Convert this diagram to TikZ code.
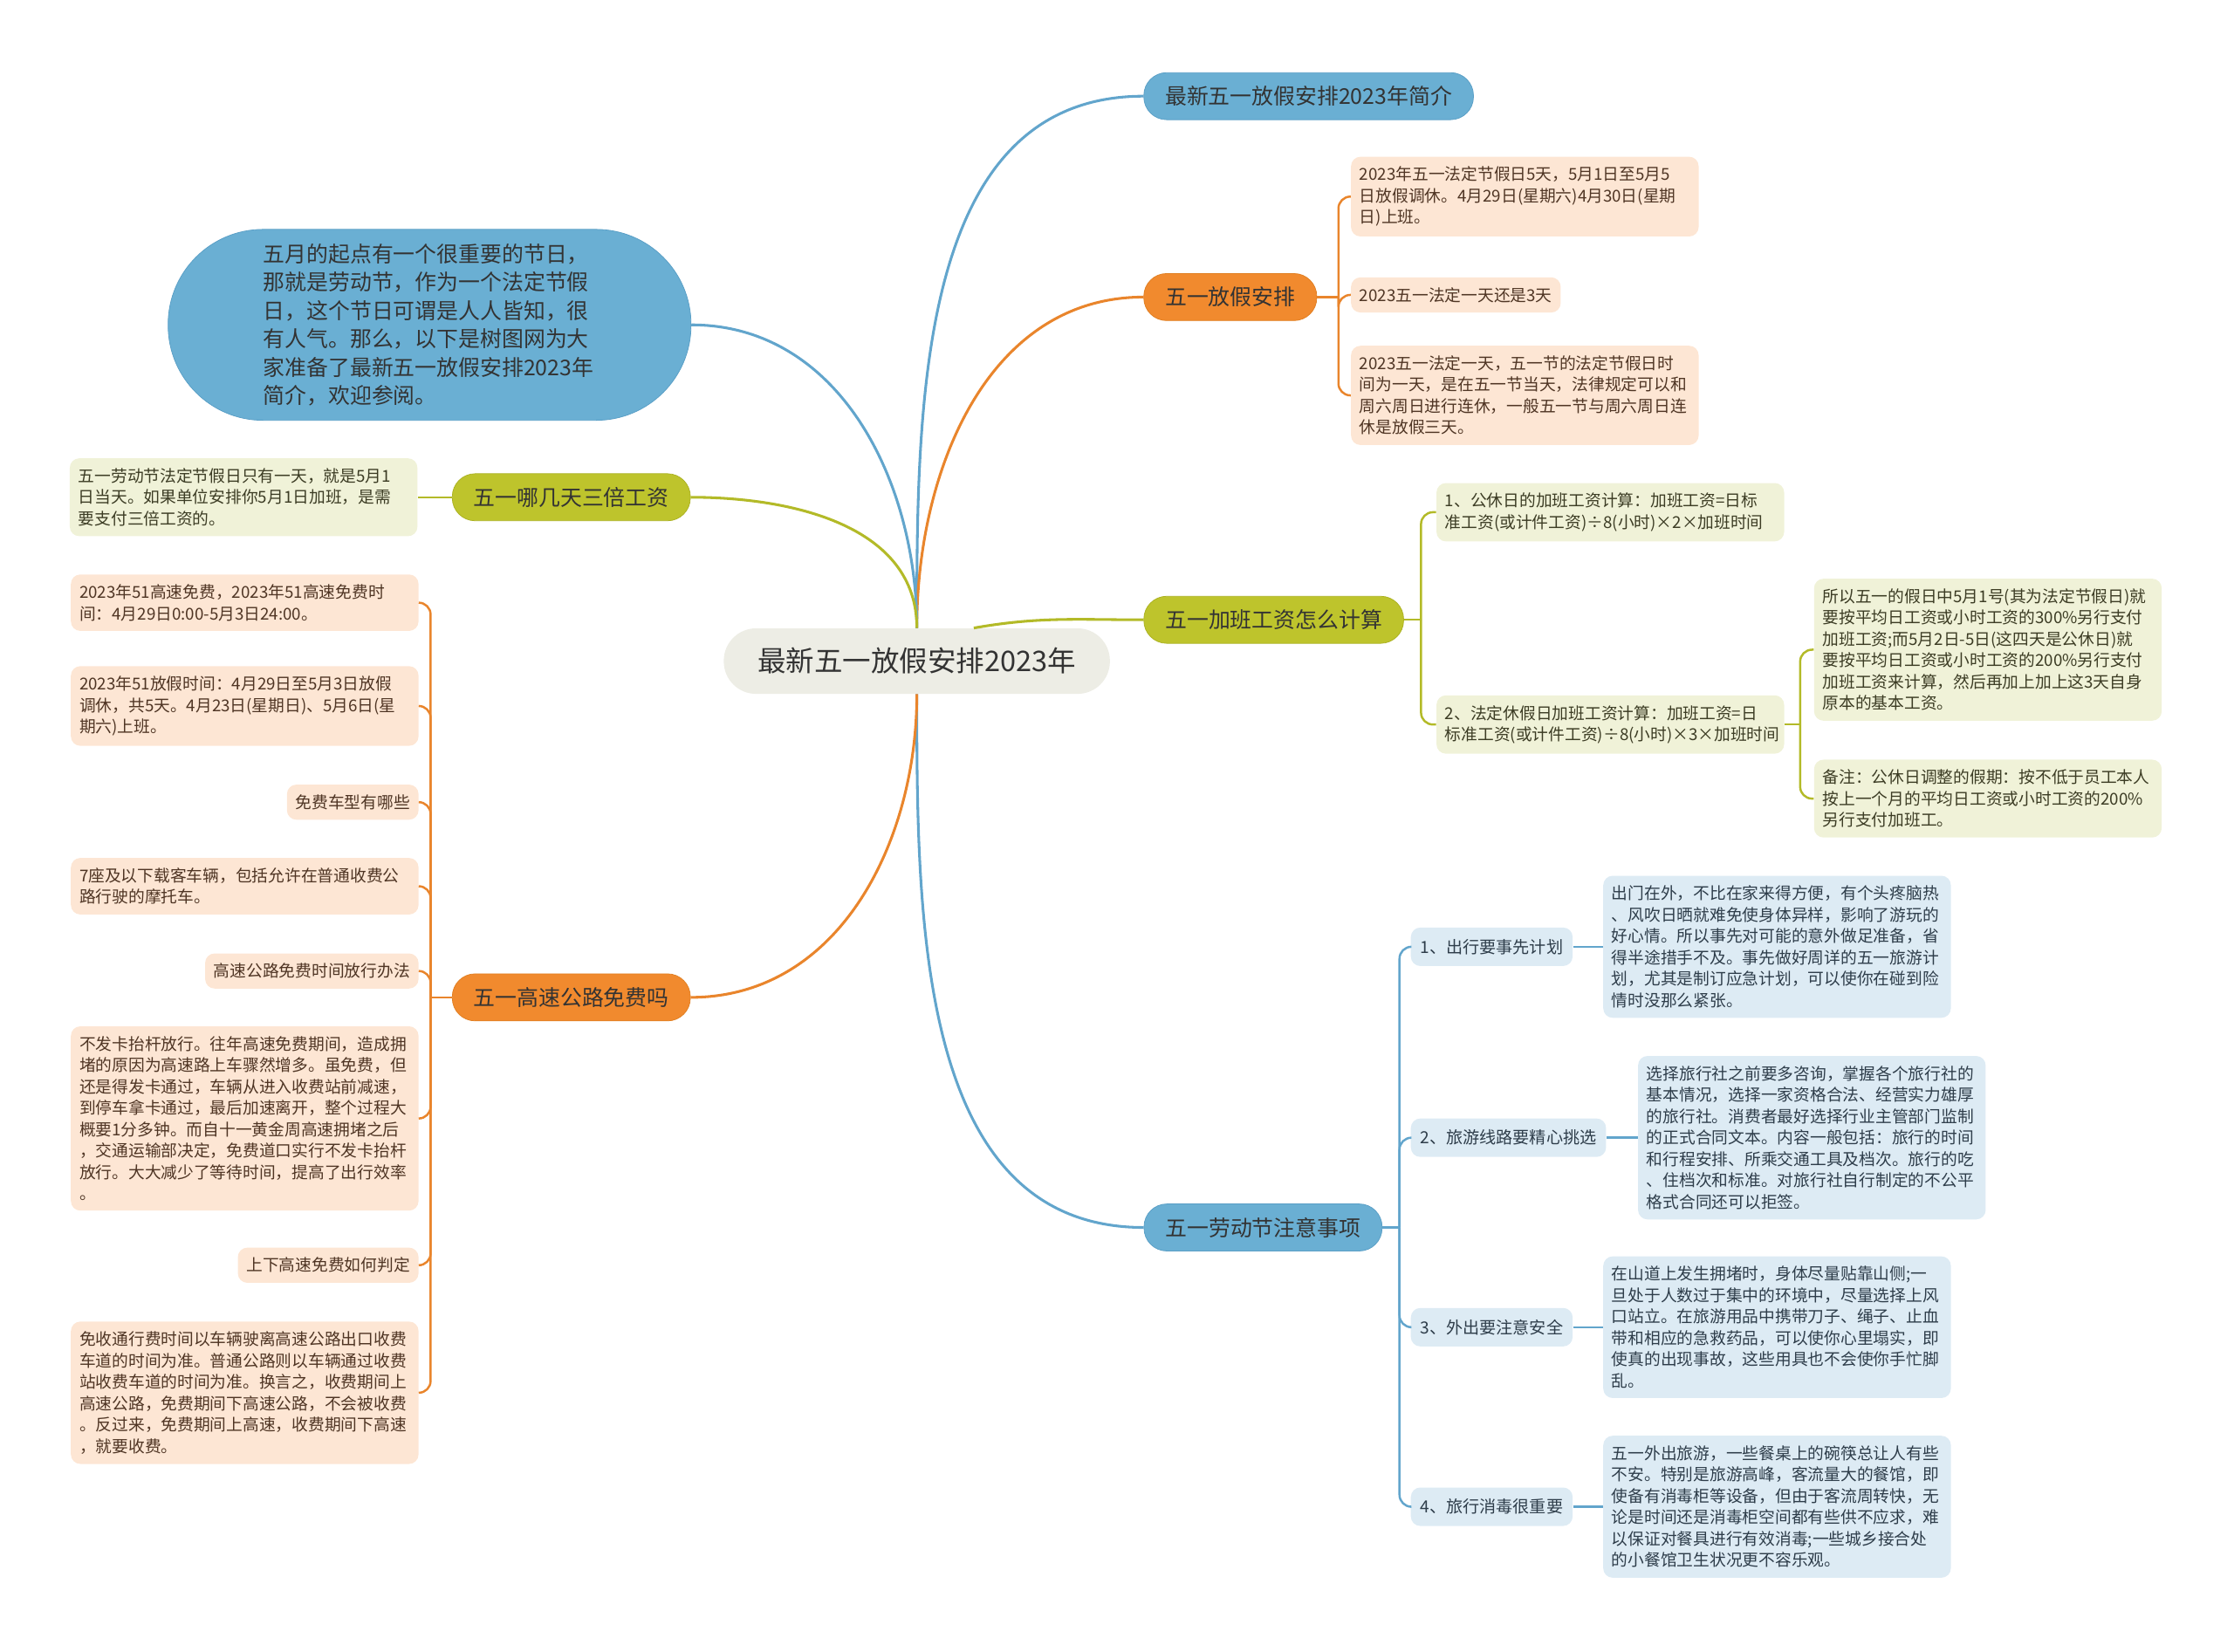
\documentclass[tikz,border=0pt]{standalone}
\usepackage{fontspec}
\setmainfont{Noto Sans CJK SC}
\usepackage{xcolor}
\usepackage{tikz}
\usetikzlibrary{positioning}

\definecolor{rootfill}{HTML}{EDEDE5}
\definecolor{topicblue}{HTML}{6AAFD3}
\definecolor{topicblueline}{HTML}{5A9FC6}
\definecolor{topicorange}{HTML}{F18A2E}
\definecolor{topicorangeline}{HTML}{E07F22}
\definecolor{topicolive}{HTML}{BEC42C}
\definecolor{topicoliveline}{HTML}{ABB122}
\definecolor{linkblue}{HTML}{62A5CC}
\definecolor{linkorange}{HTML}{E9852C}
\definecolor{linkolive}{HTML}{B3BA28}
\definecolor{leafpeach}{HTML}{FDE6D4}
\definecolor{leafolive}{HTML}{F0F2D8}
\definecolor{leafblue}{HTML}{DDEBF4}
\definecolor{inkdark}{HTML}{333333}
\definecolor{inkbrown}{HTML}{4F3524}
\definecolor{inkolive}{HTML}{3C3C24}
\definecolor{inkblue}{HTML}{2E3D4A}

\begin{document}
\begin{tikzpicture}[
    x=0.03cm, y=-0.03cm,
    every node/.style={font=\fontsize{9.8}{12.8}\selectfont, text=inkdark},
    rootbox/.style={fill=rootfill, rounded corners=0.68cm, minimum width=8.13cm,
      minimum height=1.38cm, font=\fontsize{17}{20}\selectfont},
    topic/.style={rounded corners=0.48cm, minimum height=0.99cm, inner xsep=0.45cm,
      font=\fontsize{13}{16}\selectfont},
    bluetopic/.style={topic, fill=topicblue, draw=topicblueline},
    orangetopic/.style={topic, fill=topicorange, draw=topicorangeline},
    olivetopic/.style={topic, fill=topicolive, draw=topicoliveline},
    subtopic/.style={fill=leafblue, rounded corners=0.2cm, inner xsep=0.2cm,
      minimum height=0.81cm, font=\fontsize{10}{12}\selectfont, text=inkblue},
    leaf/.style={rounded corners=0.2cm, inner xsep=0.18cm, inner ysep=0.21cm, align=left},
    longleaf/.style={leaf, text width=6.96cm},
    peachleaf/.style={leaf, fill=leafpeach, text=inkbrown},
    oliveleaf/.style={leaf, fill=leafolive, text=inkolive},
    blueleaf/.style={leaf, fill=leafblue, text=inkblue},
    link/.style={line width=1.6pt},
    twig/.style={line width=1.3pt, rounded corners=0.25cm}
  ]
  \useasboundingbox (0,0) rectangle (1568,1159);

  % Zentrum
  \node[rootbox] (root) at (643.5,464) {最新五一放假安排2023年};

  % rechte Seite
  \node[bluetopic] (intro) at (918.5,67.5) {最新五一放假安排2023年简介};

  \node[orangetopic] (pa) at (863.5,208.5) {五一放假安排};
  \node[peachleaf, longleaf, anchor=west] (a1) at (948,138)
    {2023年五一法定节假日5天，5月1日至5月5\\日放假调休。4月29日(星期六)4月30日(星期\\日)上班。};
  \node[peachleaf, anchor=west] (a2) at (948,207) {2023五一法定一天还是3天};
  \node[peachleaf, longleaf, anchor=west] (a3) at (948,277.5)
    {2023五一法定一天，五一节的法定节假日时\\间为一天，是在五一节当天，法律规定可以和\\周六周日进行连休，一般五一节与周六周日连\\休是放假三天。};

  \node[olivetopic] (jb) at (894,435) {五一加班工资怎么计算};
  \node[oliveleaf, longleaf, anchor=west] (b1) at (1008,359.5)
    {1、公休日的加班工资计算：加班工资=日标\\准工资(或计件工资)÷8(小时)×2×加班时间};
  \node[oliveleaf, longleaf, anchor=west] (b2) at (1008,508.5)
    {2、法定休假日加班工资计算：加班工资=日\\标准工资(或计件工资)÷8(小时)×3×加班时间};
  \node[oliveleaf, longleaf, anchor=west] (g1) at (1273,456)
    {所以五一的假日中5月1号(其为法定节假日)就\\要按平均日工资或小时工资的300\%另行支付\\加班工资;而5月2日-5日(这四天是公休日)就\\要按平均日工资或小时工资的200\%另行支付\\加班工资来计算，然后再加上加上这3天自身\\原本的基本工资。};
  \node[oliveleaf, longleaf, anchor=west] (g2) at (1273,560.5)
    {备注：公休日调整的假期：按不低于员工本人\\按上一个月的平均日工资或小时工资的200\%\\另行支付加班工。};

  \node[bluetopic] (zy) at (886.5,861.5) {五一劳动节注意事项};
  \node[subtopic, anchor=west] (t1) at (990,664.5) {1、出行要事先计划};
  \node[blueleaf, longleaf, right=0.63cm of t1] (d1)
    {出门在外，不比在家来得方便，有个头疼脑热\\、风吹日晒就难免使身体异样，影响了游玩的\\好心情。所以事先对可能的意外做足准备，省\\得半途措手不及。事先做好周详的五一旅游计\\划，尤其是制订应急计划，可以使你在碰到险\\情时没那么紧张。};
  \node[subtopic, anchor=west] (t2) at (990,798.5) {2、旅游线路要精心挑选};
  \node[blueleaf, longleaf, right=0.66cm of t2] (d2)
    {选择旅行社之前要多咨询，掌握各个旅行社的\\基本情况，选择一家资格合法、经营实力雄厚\\的旅行社。消费者最好选择行业主管部门监制\\的正式合同文本。内容一般包括：旅行的时间\\和行程安排、所乘交通工具及档次。旅行的吃\\、住档次和标准。对旅行社自行制定的不公平\\格式合同还可以拒签。};
  \node[subtopic, anchor=west] (t3) at (990,931.5) {3、外出要注意安全};
  \node[blueleaf, longleaf, right=0.63cm of t3] (d3)
    {在山道上发生拥堵时，身体尽量贴靠山侧;一\\旦处于人数过于集中的环境中，尽量选择上风\\口站立。在旅游用品中携带刀子、绳子、止血\\带和相应的急救药品，可以使你心里塌实，即\\使真的出现事故，这些用具也不会使你手忙脚\\乱。};
  \node[subtopic, anchor=west] (t4) at (990,1057.5) {4、旅行消毒很重要};
  \node[blueleaf, longleaf, right=0.63cm of t4] (d4)
    {五一外出旅游，一些餐桌上的碗筷总让人有些\\不安。特别是旅游高峰，客流量大的餐馆，即\\使备有消毒柜等设备，但由于客流周转快，无\\论是时间还是消毒柜空间都有些供不应求，难\\以保证对餐具进行有效消毒;一些城乡接合处\\的小餐馆卫生状况更不容乐观。};

  % linke Seite
  \node[fill=topicblue, draw=topicblueline, rounded corners=2cm, minimum width=11.01cm,
    minimum height=4.02cm, text width=7cm, align=left,
    font=\fontsize{13}{17}\selectfont] (lintro) at (301.5,228)
    {五月的起点有一个很重要的节日，\\那就是劳动节，作为一个法定节假\\日，这个节日可谓是人人皆知，很\\有人气。那么，以下是树图网为大\\家准备了最新五一放假安排2023年\\简介，欢迎参阅。};

  \node[olivetopic] (sb) at (401,349) {五一哪几天三倍工资};
  \node[oliveleaf, longleaf, left=0.72cm of sb] (sl)
    {五一劳动节法定节假日只有一天，就是5月1\\日当天。如果单位安排你5月1日加班，是需\\要支付三倍工资的。};

  \node[orangetopic] (gs) at (401,700) {五一高速公路免费吗};
  \node[peachleaf, longleaf, anchor=east] (h1) at (294,423)
    {2023年51高速免费，2023年51高速免费时\\间：4月29日0:00-5月3日24:00。};
  \node[peachleaf, longleaf, anchor=east] (h2) at (294,495.5)
    {2023年51放假时间：4月29日至5月3日放假\\调休，共5天。4月23日(星期日)、5月6日(星\\期六)上班。};
  \node[peachleaf, anchor=east] (h3) at (294,563) {免费车型有哪些};
  \node[peachleaf, longleaf, anchor=east] (h4) at (294,622)
    {7座及以下载客车辆，包括允许在普通收费公\\路行驶的摩托车。};
  \node[peachleaf, anchor=east] (h5) at (294,681.5) {高速公路免费时间放行办法};
  \node[peachleaf, longleaf, anchor=east] (h6) at (294,785)
    {不发卡抬杆放行。往年高速免费期间，造成拥\\堵的原因为高速路上车骤然增多。虽免费，但\\还是得发卡通过，车辆从进入收费站前减速，\\到停车拿卡通过，最后加速离开，整个过程大\\概要1分多钟。而自十一黄金周高速拥堵之后\\，交通运输部决定，免费道口实行不发卡抬杆\\放行。大大减少了等待时间，提高了出行效率\\。};
  \node[peachleaf, anchor=east] (h7) at (294,888) {上下高速免费如何判定};
  \node[peachleaf, longleaf, anchor=east] (h8) at (294,977.5)
    {免收通行费时间以车辆驶离高速公路出口收费\\车道的时间为准。普通公路则以车辆通过收费\\站收费车道的时间为准。换言之，收费期间上\\高速公路，免费期间下高速公路，不会被收费\\。反过来，免费期间上高速，收费期间下高速\\，就要收费。};

  % Hauptaeste
  \draw[link, linkblue] (root.north) to[out=90, in=180] (intro.west);
  \draw[link, linkorange] (root.north) to[out=90, in=180] (pa.west);
  \draw[link, linkolive] ([xshift=1.2cm]root.north) to[out=10, in=180] (jb.west);
  \draw[link, linkblue] (root.south) to[out=-90, in=180] (zy.west);
  \draw[link, linkblue] (root.north) to[out=90, in=0] (lintro.east);
  \draw[link, linkolive] (root.north) to[out=90, in=0] (sb.east);
  \draw[link, linkorange] (root.south) to[out=-90, in=0] (gs.east);

  % Verzweigungen
  \coordinate[right=0.45cm of pa] (pa-sp);
  \draw[twig, linkorange] (pa.east) -- (pa-sp);
  \foreach \leafname in {a1, a2, a3}
    \draw[twig, linkorange] (pa-sp) |- (\leafname.west);

  \coordinate[right=0.36cm of jb] (jb-sp);
  \draw[twig, linkolive] (jb.east) -- (jb-sp);
  \foreach \leafname in {b1, b2}
    \draw[twig, linkolive] (jb-sp) |- (\leafname.west);

  \coordinate[right=0.33cm of b2] (b2-sp);
  \draw[twig, linkolive] (b2.east) -- (b2-sp);
  \foreach \leafname in {g1, g2}
    \draw[twig, linkolive] (b2-sp) |- (\leafname.west);

  \coordinate[right=0.36cm of zy] (zy-sp);
  \draw[twig, linkblue] (zy.east) -- (zy-sp);
  \foreach \leafname in {t1, t2, t3, t4}
    \draw[twig, linkblue] (zy-sp) |- (\leafname.west);
  \foreach \i in {1, 2, 3, 4}
    \draw[twig, linkblue] (t\i.east) -- (d\i.west);

  \draw[twig, linkolive] (sb.west) -- (sl.east);

  \coordinate[left=0.45cm of gs] (gs-sp);
  \draw[twig, linkorange] (gs.west) -- (gs-sp);
  \foreach \leafname in {h1, h2, h3, h4, h5, h6, h7, h8}
    \draw[twig, linkorange] (gs-sp) |- (\leafname.east);

\end{tikzpicture}
\end{document}
